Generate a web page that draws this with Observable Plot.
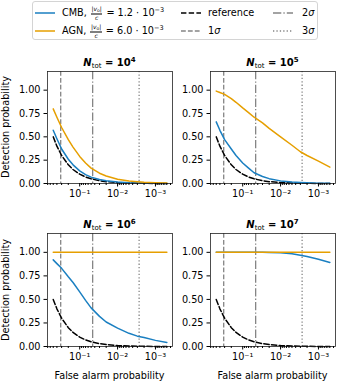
<!DOCTYPE html>
<html>
<head>
<meta charset="utf-8">
<script src="https://cdn.jsdelivr.net/npm/d3@7"></script>
<script src="https://cdn.jsdelivr.net/npm/@observablehq/plot@0.6"></script>
<style>
  html, body { margin: 0; padding: 0; background: #fff; }
  #root { position: relative; width: 338px; height: 383px; overflow: hidden; font-family: "DejaVu Sans", sans-serif; color: #000; }
  .abs { position: absolute; }
  .lbl { font-size: 9.7px; white-space: nowrap; line-height: 1; }
  .title { font-size: 10px; white-space: nowrap; text-align: center; width: 140px; line-height: 12px; }
  .title sub { font-size: 7px; font-weight: normal; vertical-align: -2px; }
  .title sup { font-size: 7px; vertical-align: 4px; }
  .frac { display: inline-flex; flex-direction: column; vertical-align: middle; font-size: 6px; line-height: 1; text-align: center; margin: 0 1px; }
  .frac .num { border-bottom: 0.7px solid #000; padding: 0 0.5px 0.5px; }
  .frac .num sub { font-size: 4.5px; vertical-align: -1px; }
  .ltext sup { font-size: 6.5px; vertical-align: 4px; }
</style>
</head>
<body>
<div id="root"></div>
<script>
// ---------------- data ----------------
const fap = [0.5, 0.4, 0.3, 0.2, 0.15, 0.1, 0.07, 0.05, 0.03, 0.02, 0.01, 0.005, 0.003, 0.002, 0.001, 0.0005];
const reference = [0.5, 0.4, 0.3, 0.2, 0.15, 0.1, 0.07, 0.05, 0.03, 0.02, 0.01, 0.005, 0.003, 0.002, 0.001, 0.0005];

const cmb_1e4 = [0.57, 0.48, 0.37, 0.26, 0.2, 0.135, 0.095, 0.068, 0.042, 0.029, 0.015, 0.008, 0.005, 0.0035, 0.002, 0.001];
const agn_1e4 = [0.80, 0.71, 0.60, 0.47, 0.39, 0.29, 0.22, 0.165, 0.11, 0.08, 0.045, 0.026, 0.018, 0.013, 0.008, 0.005];
const cmb_1e5 = [0.66, 0.57, 0.47, 0.37, 0.30, 0.22, 0.165, 0.115, 0.075, 0.052, 0.028, 0.015, 0.01, 0.007, 0.004, 0.002];
const agn_1e5 = [0.99, 0.975, 0.955, 0.91, 0.87, 0.81, 0.76, 0.71, 0.65, 0.59, 0.50, 0.41, 0.34, 0.30, 0.24, 0.175];
const cmb_1e6 = [0.92, 0.88, 0.83, 0.74, 0.68, 0.58, 0.49, 0.41, 0.32, 0.26, 0.195, 0.14, 0.11, 0.095, 0.065, 0.043];
const agn_1e6 = [1, 1, 1, 1, 1, 1, 1, 1, 1, 1, 1, 1, 1, 1, 1, 1];
const cmb_1e7 = [1, 1, 1, 1, 1, 1, 1, 1, 1, 0.999, 0.996, 0.985, 0.968, 0.955, 0.927, 0.893];
const agn_1e7 = [1, 1, 1, 1, 1, 1, 1, 1, 1, 1, 1, 1, 1, 1, 1, 1];

const sigmaLevels = [0.3173, 0.0455, 0.0027]; // 1σ, 2σ, 3σ false alarm probabilities

const xTicks = [0.1, 0.01, 0.001];
const xTickLabels = ["10\u207B\u00B9", "10\u207B\u00B2", "10\u207B\u00B3"];
const xMinorTicks = [0.7, 0.6, 0.5, 0.4, 0.3, 0.2,
  0.09, 0.08, 0.07, 0.06, 0.05, 0.04, 0.03, 0.02,
  0.009, 0.008, 0.007, 0.006, 0.005, 0.004, 0.003, 0.002,
  0.0009, 0.0008, 0.0007, 0.0006, 0.0005, 0.0004];
const yTicks = [0, 0.25, 0.5, 0.75, 1];
const yTickLabels = ["0.00", "0.25", "0.50", "0.75", "1.00"];

const panelExponents = ["4", "5", "6", "7"];

const COL_CMB = "#1a7fc1";
const COL_AGN = "#e69f00";
const COL_SIG = "#858585";

function toRows(ys) { return fap.map((x, i) => ({x, y: ys[i]})); }

function panel(cmb, agn, height) {
  const lineOpts = {x: "x", y: "y", strokeWidth: 1.5};
  return Plot.plot({
    width: 175, height, marginLeft: 47, marginRight: 3, marginTop: 5, marginBottom: height - 5 - (height === 142 ? 112 : 113),
    style: {fontFamily: "DejaVu Sans", fontSize: "9.7px", color: "#000", background: "transparent", overflow: "visible"},
    x: {type: "log", domain: [Math.pow(10, -0.15), Math.pow(10, -3.45)]},
    y: {domain: [0, 1.2]},
    marks: [
      Plot.ruleX([sigmaLevels[0]], {stroke: COL_SIG, strokeWidth: 1.3, strokeDasharray: "4.8,2.1"}),
      Plot.ruleX([sigmaLevels[1]], {stroke: COL_SIG, strokeWidth: 1.3, strokeDasharray: "8.3,2.1,1.3,2.1"}),
      Plot.ruleX([sigmaLevels[2]], {stroke: COL_SIG, strokeWidth: 1.3, strokeDasharray: "1.3,2.1"}),
      Plot.line(toRows(reference), {...lineOpts, stroke: "#000", strokeDasharray: "5.4,2.3"}),
      Plot.line(toRows(cmb), {...lineOpts, stroke: COL_CMB}),
      Plot.line(toRows(agn), {...lineOpts, stroke: COL_AGN}),
      Plot.frame({stroke: "#222", strokeWidth: 0.8}),
      Plot.axisY({ticks: yTicks, tickFormat: d => yTickLabels[yTicks.indexOf(d)], tickSize: 3.5, tickPadding: 3.5, label: null}),
      Plot.axisX({ticks: xTicks, tickFormat: d => xTickLabels[xTicks.indexOf(d)], tickSize: 3.5, tickPadding: 3.5, label: null}),
      Plot.axisX({ticks: xMinorTicks, tickFormat: () => "", tickSize: 2, label: null})
    ]
  });
}

const root = document.getElementById("root");
function place(el, left, top) {
  el.style.position = "absolute"; el.style.left = left + "px"; el.style.top = top + "px";
  root.appendChild(el);
}
function html(str, cls, left, top, extra) {
  const d = document.createElement("div");
  d.className = "abs " + cls;
  d.innerHTML = str;
  d.style.left = left + "px"; d.style.top = top + "px";
  if (extra) Object.assign(d.style, extra);
  root.appendChild(d);
  return d;
}

place(panel(cmb_1e4, agn_1e4, 142), 0, 66);
place(panel(cmb_1e5, agn_1e5, 142), 163, 66);
place(panel(cmb_1e6, agn_1e6, 143), 0, 228);
place(panel(cmb_1e7, agn_1e7, 143), 163, 228);

// titles
const titleCenters = [[109.5, 54], [272.5, 54], [109.5, 216], [272.5, 216]];
panelExponents.forEach((e, i) => {
  const [cx, top] = titleCenters[i];
  html(`<b><i>N</i></b><sub>tot</sub><b> = 10<sup>${e}</sup></b>`, "title", cx - 70, top);
});

// axis labels
[127, 289.5].forEach(cy => {
  html("Detection probability", "lbl", 6, cy, {transform: "translate(-50%,-50%) rotate(-90deg)"});
});
[109.5, 272.5].forEach(cx => {
  html("False alarm probability", "lbl", cx, 376, {transform: "translate(-50%,-50%)"});
});

// legend
const legend = html("", "", 32, 1, {width: "286px", height: "39px", border: "1px solid #d4d4d4", borderRadius: "3px", background: "#fff", boxSizing: "border-box"});
function sample(stroke, dash, left, cy) {
  const svgNS = "http://www.w3.org/2000/svg";
  const s = document.createElementNS(svgNS, "svg");
  s.setAttribute("width", 20); s.setAttribute("height", 6);
  s.style.position = "absolute"; s.style.left = left + "px"; s.style.top = (cy - 3) + "px";
  const l = document.createElementNS(svgNS, "line");
  l.setAttribute("x1", 0); l.setAttribute("x2", 20); l.setAttribute("y1", 3); l.setAttribute("y2", 3);
  l.setAttribute("stroke", stroke); l.setAttribute("stroke-width", stroke === "#000" ? 1.6 : 1.5);
  if (dash) l.setAttribute("stroke-dasharray", dash);
  s.appendChild(l);
  legend.appendChild(s);
}
function ltext(str, left, cy) {
  const d = document.createElement("div");
  d.className = "lbl ltext";
  d.style.position = "absolute"; d.style.left = left + "px"; d.style.top = cy + "px";
  d.style.transform = "translateY(-50%)";
  d.innerHTML = str;
  legend.appendChild(d);
}
const frac = `<span class="frac"><span class="num">|<i>v</i><sub>o</sub>|</span><span><i>c</i></span></span>`;
sample(COL_CMB, null, 2, 11);
ltext(`CMB, ${frac} = 1.2 · 10<sup>\u22123</sup>`, 29, 11);
sample(COL_AGN, null, 2, 29);
ltext(`AGN, ${frac} = 6.0 · 10<sup>\u22123</sup>`, 29, 29);
sample("#000", "5.4,2.3", 148, 11);
ltext("reference", 175, 11);
sample(COL_SIG, "4.8,2.1", 148, 29);
ltext("1<i>σ</i>", 175, 29);
sample(COL_SIG, "8.3,2.1,1.3,2.1", 240, 11);
ltext("2<i>σ</i>", 269, 11);
sample(COL_SIG, "1.3,2.1", 240, 29);
ltext("3<i>σ</i>", 269, 29);
</script>
</body>
</html>
